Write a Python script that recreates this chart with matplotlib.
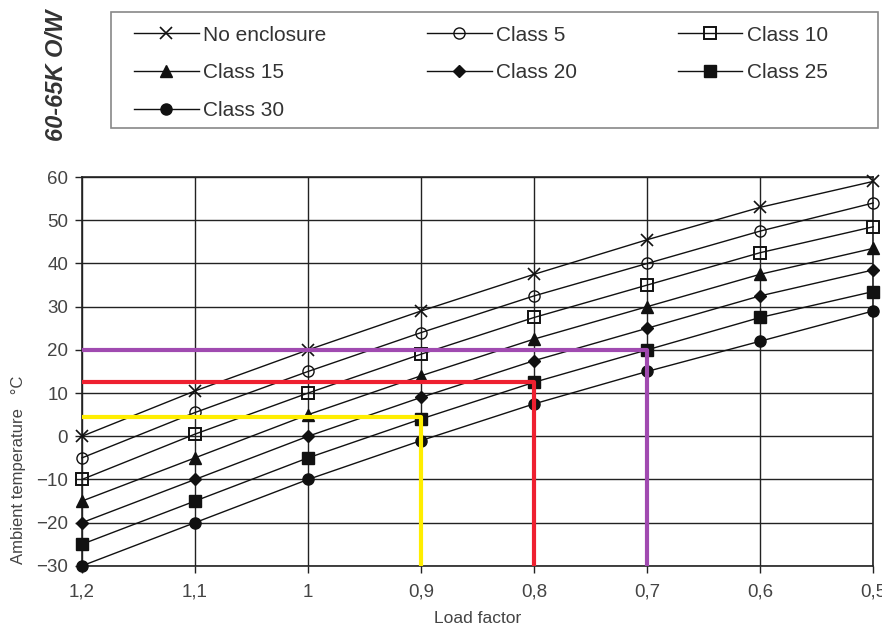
import matplotlib
matplotlib.use('Agg')
from matplotlib import pyplot as plt
from matplotlib.patches import Rectangle

plt.rcParams['font.family'] = ['Liberation Sans', 'DejaVu Sans']

load = [1.2, 1.1, 1.0, 0.9, 0.8, 0.7, 0.6, 0.5]
load_labels = ['1,2', '1,1', '1', '0,9', '0,8', '0,7', '0,6', '0,5']
temp_ticks = [-30, -20, -10, 0, 10, 20, 30, 40, 50, 60]
temp_labels = ['\u221230', '\u221220', '\u221210', '0', '10', '20', '30', '40', '50', '60']

no_enclosure = [0, 10.5, 20, 29, 37.5, 45.5, 53, 59]
class_5 = [-5, 5.5, 15, 24, 32.5, 40, 47.5, 54]
class_10 = [-10, 0.5, 10, 19, 27.5, 35, 42.5, 48.5]
class_15 = [-15, -5, 5, 14, 22.5, 30, 37.5, 43.5]
class_20 = [-20, -10, 0, 9, 17.5, 25, 32.5, 38.5]
class_25 = [-25, -15, -5, 4, 12.5, 20, 27.5, 33.5]
class_30 = [-30, -20, -10, -1, 7.5, 15, 22, 29]

# guide lines
yellow_x = [1.2, 0.9, 0.9]
yellow_y = [4.5, 4.5, -30]
red_x = [1.2, 0.8, 0.8]
red_y = [12.5, 12.5, -30]
purple_x = [1.2, 0.7, 0.7]
purple_y = [20, 20, -30]

fig = plt.figure(figsize=(8.82, 6.28), dpi=100)
ax = fig.add_axes([0.093, 0.099, 0.897, 0.619])

line = dict(color='#111111', linewidth=1.0, clip_on=False, zorder=3)
h1, = ax.plot(load, no_enclosure, marker='x', markersize=8, markeredgewidth=1.2, label='No enclosure', **line)
h2, = ax.plot(load, class_5, marker='o', markersize=8, markerfacecolor='none', markeredgewidth=1.0, label='Class 5', **line)
h3, = ax.plot(load, class_10, marker='s', markersize=8, markerfacecolor='none', markeredgewidth=1.4, label='Class 10', **line)
h4, = ax.plot(load, class_15, marker='^', markersize=8, label='Class 15', **line)
h5, = ax.plot(load, class_20, marker='D', markersize=6, label='Class 20', **line)
h6, = ax.plot(load, class_25, marker='s', markersize=9, label='Class 25', **line)
h7, = ax.plot(load, class_30, marker='o', markersize=8, label='Class 30', **line)

ax.plot(yellow_x, yellow_y, color='#ffee00', linewidth=3, zorder=4)
ax.plot(red_x, red_y, color='#ee2030', linewidth=3, zorder=4)
ax.plot(purple_x, purple_y, color='#a04ab0', linewidth=3, zorder=4)

ax.set_xlim(1.2, 0.5)
ax.set_ylim(-30, 60)
ax.set_xticks(load)
ax.set_xticklabels(load_labels)
ax.set_yticks(temp_ticks)
ax.set_yticklabels(temp_labels)
ax.tick_params(labelsize=13.5, labelcolor='#444444', length=5, width=1, color='#222222')
ax.tick_params(axis='x', pad=8)
ax.tick_params(axis='y', pad=5)
ax.grid(True, color='#222222', linewidth=1)
for s in ax.spines.values():
    s.set_color('#222222')
    s.set_linewidth(1.2)

ax.set_xlabel('Load factor', fontsize=12.5, color='#444444', labelpad=7)
ax.set_ylabel('Ambient temperature   \u00b0C', fontsize=12, color='#444444')
ax.yaxis.set_label_coords(-0.071, 0.247)

# legend box drawn separately, it is wider than its entries
fig.patches.append(Rectangle((0.1259, 0.7962), 0.8696, 0.1847, transform=fig.transFigure,
                             facecolor='white', edgecolor='#888888', linewidth=1.2, zorder=0))

# reorder so the legend reads row by row
fig.legend(handles=[h1, h4, h7, h2, h5, h3, h6], loc='upper left',
           bbox_to_anchor=(0.152, 0.959), ncol=3,
           fontsize=15, handlelength=3.1, handletextpad=0.2, labelspacing=0.9,
           columnspacing=4.85, borderpad=0, borderaxespad=0,
           frameon=False, labelcolor='#333333')

fig.text(0.064, 0.985, '60-65K O/W', rotation=90, ha='center', va='top',
         fontsize=17, fontweight='bold', fontstyle='italic', color='#333333')

fig.savefig('out.png', dpi=100)
